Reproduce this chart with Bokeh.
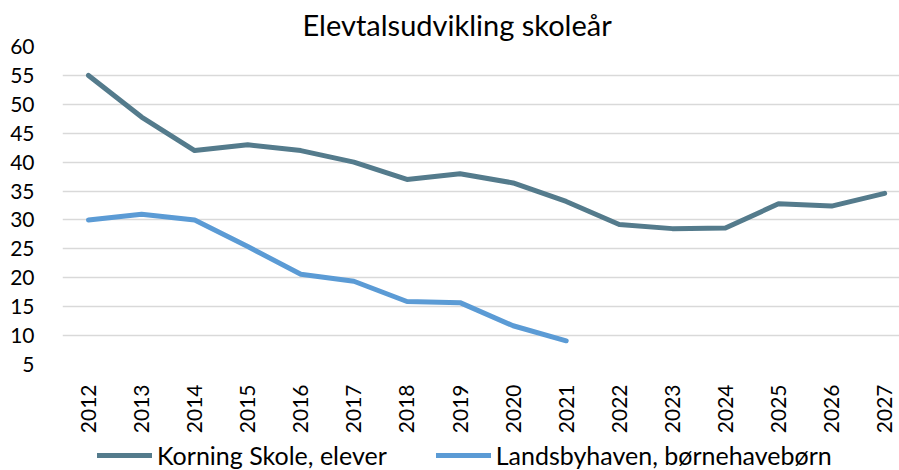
import math
from bokeh.plotting import figure
from bokeh.layouts import column
from bokeh.models import Range1d, FixedTicker, Legend, LegendItem
from bokeh.embed import file_html
from bokeh.resources import INLINE

years = [2012, 2013, 2014, 2015, 2016, 2017, 2018, 2019,
         2020, 2021, 2022, 2023, 2024, 2025, 2026, 2027]
year_labels = [str(y) for y in years]
korning = [55, 47.8, 42, 43, 42, 40, 37, 38, 36.4, 33.2,
           29.2, 28.5, 28.6, 32.8, 32.4, 34.6]
landsby_years = [2012, 2013, 2014, 2015, 2016, 2017, 2018, 2019, 2020, 2021]
landsby = [30, 31, 30, 25.4, 20.6, 19.4, 15.9, 15.7, 11.7, 9.1]
y_ticks = [5, 10, 15, 20, 25, 30, 35, 40, 45, 50, 55, 60]
series_names = ["Korning Skole, elever", "Landsbyhaven, børnehavebørn"]
series_colors = ["#547B8C", "#5B9BD5"]

FONT = "Lato"

p = figure(width=899, height=436, output_backend="svg", toolbar_location=None,
           x_range=Range1d(2011.51, 2027.28), y_range=Range1d(5, 60),
           min_border_left=62, min_border_right=0, min_border_top=45,
           min_border_bottom=68, title="Elevtalsudvikling skoleår")
p.outline_line_color = None
p.title.text_font = FONT
p.title.text_font_size = "29px"
p.title.text_font_style = "normal"
p.title.text_color = "#000000"
p.title.align = "left"
p.title.offset = 240
p.title.standoff = 9

p.xgrid.grid_line_color = None
p.ygrid.grid_line_color = "#d9d9d9"
p.ygrid.grid_line_width = 1.5
p.yaxis.ticker = FixedTicker(ticks=y_ticks)
p.xaxis.ticker = FixedTicker(ticks=years)
p.xaxis.major_label_overrides = {y: l for y, l in zip(years, year_labels)}
p.xaxis.major_label_orientation = math.pi / 2

for ax in (p.xaxis, p.yaxis):
    ax.axis_line_color = None
    ax.major_tick_line_color = None
    ax.minor_tick_line_color = None
    ax.major_label_text_font = FONT
    ax.major_label_text_font_size = "21px"
    ax.major_label_text_color = "#000000"
p.yaxis.major_label_standoff = 22
p.xaxis.major_label_standoff = 14

p.line(years, korning, line_color=series_colors[0], line_width=5,
       line_cap="round", line_join="round")
p.line(landsby_years, landsby, line_color=series_colors[1], line_width=5,
       line_cap="round", line_join="round")

# legend strip below the chart (its ranges exclude the data, so only the legend shows)
lg = figure(width=899, height=34, output_backend="svg", toolbar_location=None,
            x_range=Range1d(0, 1), y_range=Range1d(0, 1),
            x_axis_location=None, y_axis_location=None,
            min_border_left=62, min_border_right=0, min_border_top=0,
            min_border_bottom=0)
lg.outline_line_color = None
lg.grid.visible = False
items = []
for name, color, xs, ys in zip(series_names, series_colors,
                               [years, landsby_years], [korning, landsby]):
    r = lg.line(xs, ys, line_color=color, line_width=5, line_cap="round")
    items.append(LegendItem(label=name, renderers=[r]))
legend = Legend(items=items, orientation="horizontal", location=(35, 0),
                label_text_font=FONT, label_text_font_size="25px",
                label_text_color="#000000", label_height=24,
                glyph_width=55, glyph_height=24, label_standoff=5, spacing=49,
                padding=0, margin=0, border_line_color=None,
                background_fill_alpha=0)
lg.add_layout(legend, "center")

open("out.html", "w").write(file_html(column(p, lg, spacing=0), INLINE))
